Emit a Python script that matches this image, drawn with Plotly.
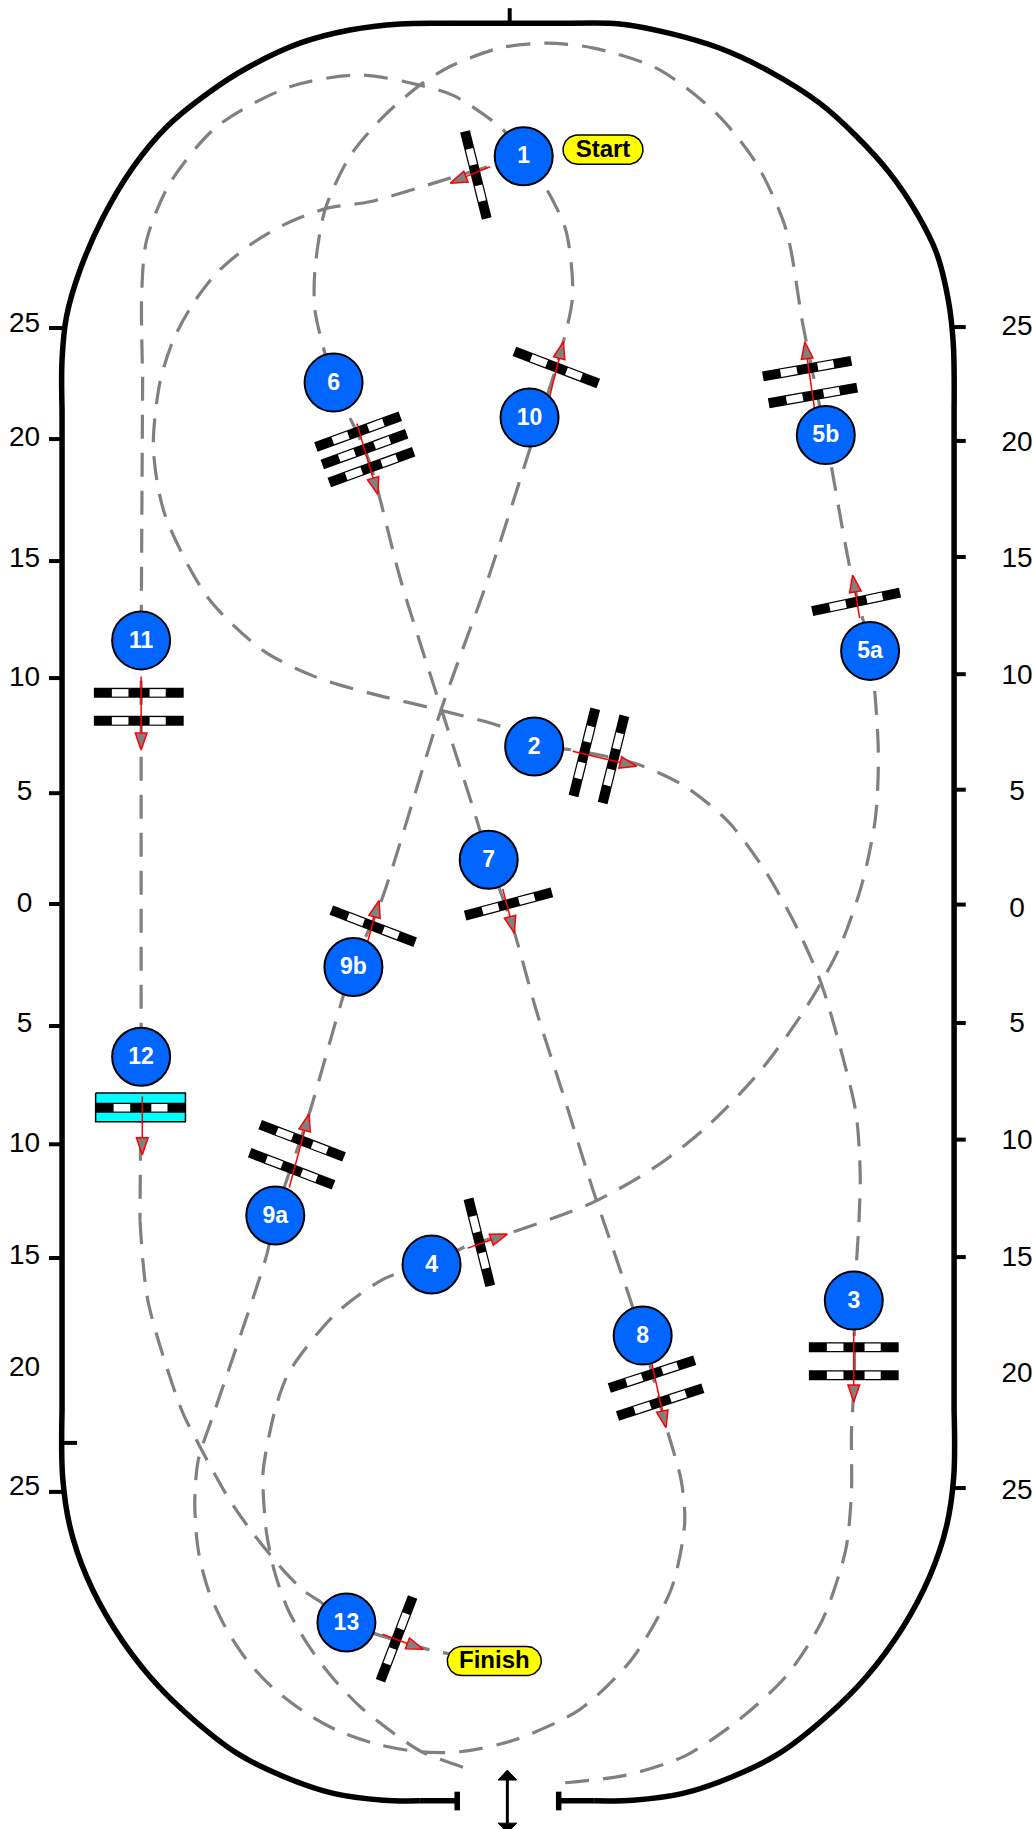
import math
import plotly.graph_objects as go

# Course coordinates on a 885 x 1568 grid.
PAGE_W, PAGE_H = 884.8, 1568.0

station_labels = ["1", "2", "3", "4", "5a", "5b", "6", "7", "8", "9a", "9b", "10", "11", "12", "13"]
station_x = [449, 458, 732, 370, 746, 708, 286, 419, 551, 236, 303, 454, 121, 121, 297]
station_y = [134, 640, 1115, 1084, 558, 373, 328, 737, 1145, 1042, 829, 358, 549, 906, 1391]

gate_x = [408, 477, 692, 697, 734, 307, 312.5, 318.5, 436, 501, 526, 732, 732, 411,
          559, 566, 259, 250, 320, 119, 119, 120.5, 340]
gate_y = [150, 315, 316, 339, 516, 370, 385, 400.5, 775, 645, 651, 1155, 1179, 1065,
          1178, 1202, 978, 1002, 794, 594, 618, 949.7, 1405]
gate_angle = [76, 21, -10, -10, -12, -20, -20, -20, -15, -76, -76, 0, 0, 76,
              -18, -18, 21, 21, 21, 0, 0, 0, -69]

arrow_x0 = [420, 470, 699, 737, 306, 431, 491, 732, 401, 558, 248, 315, 121, 122, 328]
arrow_y0 = [143, 345, 355, 530, 363, 762, 644, 1142, 1070, 1165, 1018, 808, 580, 940, 1401]
arrow_x1 = [386, 483, 690, 731, 324, 441, 546, 732, 435, 571, 265, 325, 121, 122, 363]
arrow_y1 = [157, 293, 293, 493, 424, 800, 657, 1202, 1058, 1224, 955, 772, 643, 990, 1414]

route_a_x = [449, 385.8, 317, 280, 242.8, 214.3, 185.8, 165.7, 148.5, 137, 131.5, 141, 178, 226, 271, 316, 378,
             434.5, 458, 491, 546, 587, 624, 655, 680, 703, 722, 734, 737.5, 736.5, 732.5, 732.5, 730,
             730, 725, 705, 674, 632, 587, 536, 477]
route_a_y = [134, 152.7, 173, 178.6, 193, 210, 234, 260, 291.7, 328.5, 384, 440, 512, 558, 580.5, 594, 609,
             624.6, 639, 643, 655, 674, 704, 745, 789, 840, 904, 955, 1006, 1046, 1116, 1179, 1229,
             1279, 1329, 1389, 1437, 1475.6, 1505.5, 1522, 1529]

route_b_x = [397, 361.5, 335.8, 308.6, 284.4, 264, 247, 235.8, 228.6, 225.7, 225.7, 235.8, 248, 288, 330, 370, 400.7, 434.5, 508, 564, 607,
             652, 691, 719.5, 739, 750.6, 753, 746, 729.7, 708, 688.5, 674, 649, 615, 564, 508, 468, 429,
             385.8, 360, 328.7, 300, 278.6, 270, 270, 278.6, 286, 316, 344, 381, 406, 419, 440, 460, 485, 508, 525,
             550, 571, 584, 587, 575.6, 542, 497, 440, 394.4, 360, 325.8, 291.5, 263, 234, 211.5, 193, 178.6, 170, 167, 170, 184.3,
             228.6, 236, 265, 302, 327, 378, 417.6, 451.5, 482.5, 491, 485, 468, 449, 431.7, 389, 360, 308.6,
             248.6, 185.8, 145.7, 125.7, 121.5, 122.3]
route_b_y = [1515, 1501.8, 1484.7, 1463, 1437.5, 1410, 1380, 1348.9, 1314.7, 1280, 1260, 1209, 1176, 1126, 1096, 1083, 1068, 1058, 1031, 999, 965,
             918, 864, 813, 758, 701, 643, 558, 492, 374, 279, 197, 141, 98, 59, 41, 37, 41,
             57, 73, 100, 134, 180, 231.5, 265.8, 303, 328, 394, 499, 616, 694, 736, 796, 867, 945, 1019, 1069,
             1144, 1222.5, 1269, 1306, 1362, 1422, 1465.6, 1492, 1501.8, 1501.8, 1496, 1484.6, 1469, 1447, 1423, 1394.6, 1363, 1329, 1289, 1251.7, 1208.9,
             1076, 1042, 955, 830, 772, 609, 498.7, 393.7, 295, 252.6, 197, 161, 134, 111.5, 82, 73, 64.3,
             74.3, 108.6, 157, 205.8, 251, 323]
route_c_x = [122.3, 121, 121, 120]
route_c_y = [323, 549, 908, 1046]
route_d_x = [120, 127, 155.8, 170, 195.7, 215.8, 242.8, 261.5, 274.4, 297, 367, 423]
route_d_y = [1046, 1116, 1209, 1237.5, 1284, 1313, 1346, 1364.6, 1373, 1391, 1414, 1424]

wall_nw_x = [53.2, 53.2, 57, 68.6, 88.6, 114.3, 143, 180, 214, 257, 300, 343, 385.8]
wall_nw_y = [351.5, 308.6, 271.5, 231.5, 185.8, 143, 108.6, 78.6, 57, 37, 25.7, 20.5, 20]
wall_ne_x = [488.7, 531.5, 574.4, 617.3, 660, 703, 734.5, 763, 786, 803, 813, 817.3, 818]
wall_ne_y = [20, 20.5, 28.6, 41.4, 61.4, 88.6, 117, 148.6, 182.7, 217, 257, 294.4, 351.5]
wall_sw_x = [53.2, 53.7, 60, 74.3, 97, 128.6, 163, 203, 243, 285.8, 328.6, 360]
wall_sw_y = [1208.8, 1266, 1309, 1351.7, 1394.6, 1437.5, 1471.8, 1503, 1523, 1537.5, 1543.3, 1543.8]
wall_se_x = [818, 817.7, 811.4, 797, 774.4, 742.8, 708.4, 668.4, 628.4, 585.6, 542.8, 510]
wall_se_y = [1208.8, 1266, 1309, 1351.7, 1394.6, 1437.5, 1471.8, 1503, 1523, 1537.5, 1543.3, 1543.8]

tick_left_y = [281.2, 376.4, 481, 581.3, 680, 775, 879.6, 981, 1078.5, 1279]
tick_right_y = [280.4, 378, 477.5, 578, 677, 775.5, 877, 977, 1077.7, 1275.7]
tick_inner_y = [1237]
tick_left_x0, tick_left_x1 = 42, 53.6
tick_right_x0, tick_right_x1 = 817, 828
tick_inner_x0, tick_inner_x1 = 53.6, 66

axis_labels = ["25", "20", "15", "10", "5", "0", "5", "10", "15", "20", "25"]
axis_left_y = [279, 376, 480, 582, 680, 776, 879, 982, 1078, 1174, 1276]
axis_right_y = [281, 381, 480, 580, 680, 780, 879, 979, 1079, 1179, 1279]
axis_left_x, axis_right_x = 21, 872

flag_labels = ["Start", "Finish"]
flag_x = [517, 423.8]
flag_y = [128.3, 1424]
flag_w = [68.6, 80.6]
flag_h = [25, 25]

BLACK, GRAY, RED, BLUE, YELLOW, CYAN = "#000000", "#808080", "#ff0000", "#0066ff", "#ffff00", "#00ffff"
FONT = "Liberation Sans, Arial, sans-serif"
GATE_LEN = 77.0
GATE_STOPS = [0.20, 0.385, 0.62, 0.80]
HEAD_LEN, HEAD_HALF = 14.6, 5.0


def seg(xs, ys, x0, y0, x1, y1):
    xs += [x0, x1, None]
    ys += [y0, y1, None]


fig = go.Figure()


def add_line(x, y, color, width, **kw):
    line = dict(color=color, width=width)
    line.update(kw)
    fig.add_trace(go.Scatter(x=x, y=y, mode="lines", line=line, hoverinfo="skip", showlegend=False))


def add_fill(x, y, fill, color, width):
    fig.add_trace(go.Scatter(x=x, y=y, mode="lines", fill="toself", fillcolor=fill,
                             line=dict(color=color, width=width), hoverinfo="skip", showlegend=False))


# walls
for ax_, ay_ in ((wall_nw_x, wall_nw_y), (wall_ne_x, wall_ne_y), (wall_sw_x, wall_sw_y), (wall_se_x, wall_se_y)):
    add_line(ax_, ay_, BLACK, 5.5, shape="spline", smoothing=1)
wx, wy = [], []
seg(wx, wy, wall_nw_x[-1], wall_nw_y[-1], wall_ne_x[0], wall_ne_y[0])
seg(wx, wy, wall_nw_x[0], wall_nw_y[0], wall_sw_x[0], wall_sw_y[0])
seg(wx, wy, wall_ne_x[-1], wall_ne_y[-1], wall_se_x[0], wall_se_y[0])
seg(wx, wy, wall_sw_x[-1], wall_sw_y[-1], 392, wall_sw_y[-1])
seg(wx, wy, wall_se_x[-1], wall_se_y[-1], 479, wall_se_y[-1])
seg(wx, wy, 392, 1536, 392, 1552)
seg(wx, wy, 479, 1536, 479, 1552)
add_line(wx, wy, BLACK, 5.5)
tx, ty_ = [], []
seg(tx, ty_, 437, 7, 437, 19)
for ty in tick_left_y:
    seg(tx, ty_, tick_left_x0, ty, tick_left_x1, ty)
for ty in tick_right_y:
    seg(tx, ty_, tick_right_x0, ty, tick_right_x1, ty)
for ty in tick_inner_y:
    seg(tx, ty_, tick_inner_x0, ty, tick_inner_x1, ty)
add_line(tx, ty_, BLACK, 4)

# route
DASH = "24px,14px"
add_line(route_a_x, route_a_y, GRAY, 3.2, dash=DASH, shape="spline", smoothing=0.8)
add_line(route_b_x, route_b_y, GRAY, 3.2, dash=DASH, shape="spline", smoothing=0.8)
add_line(route_c_x, route_c_y, GRAY, 3.2, dash=DASH)
add_line(route_d_x, route_d_y, GRAY, 3.2, dash=DASH, shape="spline", smoothing=0.8)

# exit arrow
add_line([435, 435], [1526, 1563], BLACK, 3)
add_fill([435, 427, 443, 435, None, 435, 427, 443, 435], [1517.5, 1526, 1526, 1517.5, None, 1571, 1563, 1563, 1571], BLACK, BLACK, 1)

# liverpool
add_fill([82, 159, 159, 82, 82], [937, 937, 961.7, 961.7, 937], CYAN, BLACK, 1.5)

# gates
bx, by, ox, oy = [], [], [], []
for cx, cy, ang in zip(gate_x, gate_y, gate_angle):
    ca, sa = math.cos(math.radians(ang)), math.sin(math.radians(ang))
    ax, ay = cx - ca * GATE_LEN / 2, cy - sa * GATE_LEN / 2
    seg(bx, by, ax, ay, ax + ca * GATE_LEN, ay + sa * GATE_LEN)
    for a, b in (GATE_STOPS[:2], GATE_STOPS[2:]):
        seg(ox, oy, ax + ca * GATE_LEN * a, ay + sa * GATE_LEN * a, ax + ca * GATE_LEN * b, ay + sa * GATE_LEN * b)
add_line(bx, by, BLACK, 10)
add_line(ox, oy, "#ffffff", 7.5)

# arrows
sx, sy, hx, hy = [], [], [], []
for x0, y0, x1, y1 in zip(arrow_x0, arrow_y0, arrow_x1, arrow_y1):
    d = math.hypot(x1 - x0, y1 - y0)
    ux, uy = (x1 - x0) / d, (y1 - y0) / d
    bxx, byy = x1 - ux * HEAD_LEN, y1 - uy * HEAD_LEN
    seg(sx, sy, x0, y0, bxx, byy)
    hx += [x1, bxx - uy * HEAD_HALF, bxx + uy * HEAD_HALF, x1, None]
    hy += [y1, byy + ux * HEAD_HALF, byy - ux * HEAD_HALF, y1, None]
add_line(sx, sy, RED, 1.5)
add_fill(hx, hy, GRAY, RED, 1.5)

# flags
for cx, cy, w, h in zip(flag_x, flag_y, flag_w, flag_h):
    r = h / 2
    xs, ys = [], []
    for k in range(0, 37):
        t = math.radians(-90 + 5 * k)
        xs.append(cx + w / 2 - r + r * math.cos(t))
        ys.append(cy + r * math.sin(t))
    for k in range(0, 37):
        t = math.radians(90 + 5 * k)
        xs.append(cx - w / 2 + r + r * math.cos(t))
        ys.append(cy + r * math.sin(t))
    xs.append(xs[0])
    ys.append(ys[0])
    add_fill(xs, ys, YELLOW, BLACK, 1.5)
fig.add_trace(go.Scatter(x=flag_x, y=[v + 0.8 for v in flag_y], mode="text", text=flag_labels, textposition="middle center",
                         textfont=dict(family=FONT, size=24, color=BLACK, weight="bold"),
                         hoverinfo="skip", showlegend=False))

# stations
fig.add_trace(go.Scatter(x=station_x, y=station_y, mode="markers",
                         marker=dict(size=58, color=BLUE, line=dict(color=BLACK, width=2)),
                         hoverinfo="skip", showlegend=False))
fig.add_trace(go.Scatter(x=station_x, y=[v + 1.2 for v in station_y], mode="text", text=station_labels,
                         textposition="middle center",
                         textfont=dict(family=FONT, size=23, color="#ffffff", weight="bold"),
                         hoverinfo="skip", showlegend=False))

# top-right circle
fig.add_trace(go.Scatter(x=[909.6], y=[43], mode="markers",
                         marker=dict(size=102, color="rgba(255,255,255,0)", line=dict(color=BLACK, width=1.5)),
                         hoverinfo="skip", showlegend=False, cliponaxis=False))

# axis numbers
for xpos, ypos in ((axis_left_x, axis_left_y), (axis_right_x, axis_right_y)):
    fig.add_trace(go.Scatter(x=[xpos] * len(ypos), y=ypos, mode="text", text=axis_labels,
                             textposition="middle center", textfont=dict(family=FONT, size=28, color=BLACK),
                             hoverinfo="skip", showlegend=False))

fig.update_layout(width=1032, height=1829, margin=dict(l=0, r=0, t=0, b=0),
                  paper_bgcolor="#ffffff", plot_bgcolor="#ffffff",
                  xaxis=dict(range=[0, PAGE_W], visible=False, fixedrange=True),
                  yaxis=dict(range=[PAGE_H, 0], visible=False, fixedrange=True))

fig.write_html("out.html", config=dict(displayModeBar=False),
               post_script="document.body.style.margin='0';document.body.style.overflow='hidden';")
